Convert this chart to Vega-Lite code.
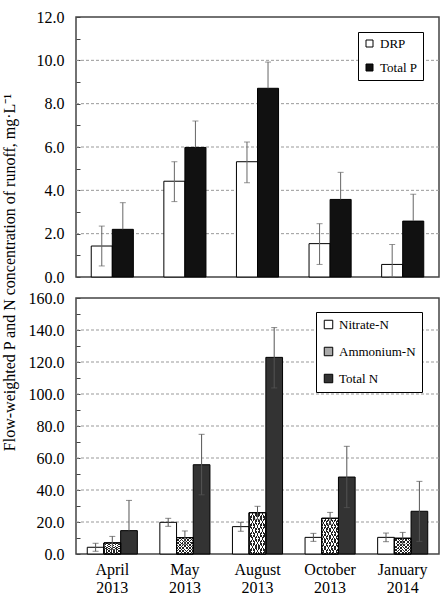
{
  "$schema": "https://vega.github.io/schema/vega-lite/v6.json",
  "padding": {"left": 0, "top": 8, "right": 6, "bottom": 4},
  "background": "white",
  "bounds": "flush",
  "spacing": 21,
  "config": {
    "font": "Liberation Serif",
    "view": {"stroke": "#444", "strokeWidth": 1.5},
    "axis": {"labelFont": "Liberation Serif", "labelFontSize": 16, "labelColor": "black", "titleFont": "Liberation Serif", "titleColor": "black", "titleFontWeight": "normal", "labelOverlap": false, "grid": false},
    "legend": {"labelFont": "Liberation Serif", "labelColor": "black", "labelFontSize": 13}
  },
  "resolve": {"scale": {"x": "independent", "y": "independent", "fill": "independent", "xOffset": "independent"}, "legend": {"fill": "independent"}},
  "datasets": {
    "P": [
      {"month": "April 2013", "series": "DRP", "value": 1.43, "lo": 0.51, "hi": 2.35},
      {"month": "April 2013", "series": "Total P", "value": 2.2, "lo": 2.2, "hi": 3.43},
      {"month": "May 2013", "series": "DRP", "value": 4.42, "lo": 3.48, "hi": 5.32},
      {"month": "May 2013", "series": "Total P", "value": 5.98, "lo": 5.98, "hi": 7.2},
      {"month": "August 2013", "series": "DRP", "value": 5.32, "lo": 4.35, "hi": 6.23},
      {"month": "August 2013", "series": "Total P", "value": 8.71, "lo": 8.71, "hi": 9.92},
      {"month": "October 2013", "series": "DRP", "value": 1.54, "lo": 0.58, "hi": 2.46},
      {"month": "October 2013", "series": "Total P", "value": 3.58, "lo": 3.58, "hi": 4.83},
      {"month": "January 2014", "series": "DRP", "value": 0.58, "lo": 0, "hi": 1.5},
      {"month": "January 2014", "series": "Total P", "value": 2.58, "lo": 2.58, "hi": 3.82}
    ],
    "N": [
      {"month": "April 2013", "series": "Nitrate-N", "value": 4.2, "lo": 1.7, "hi": 6.7},
      {"month": "April 2013", "series": "Ammonium-N", "value": 6.9, "lo": 2.8, "hi": 11.0},
      {"month": "April 2013", "series": "Total N", "value": 14.6, "lo": 14.6, "hi": 33.5},
      {"month": "May 2013", "series": "Nitrate-N", "value": 19.8, "lo": 17.3, "hi": 22.3},
      {"month": "May 2013", "series": "Ammonium-N", "value": 10.2, "lo": 6.0, "hi": 14.4},
      {"month": "May 2013", "series": "Total N", "value": 55.8, "lo": 37.0, "hi": 74.8},
      {"month": "August 2013", "series": "Nitrate-N", "value": 17.1, "lo": 14.2, "hi": 19.8},
      {"month": "August 2013", "series": "Ammonium-N", "value": 25.8, "lo": 21.7, "hi": 29.8},
      {"month": "August 2013", "series": "Total N", "value": 122.9, "lo": 103.8, "hi": 141.5},
      {"month": "October 2013", "series": "Nitrate-N", "value": 10.4, "lo": 7.9, "hi": 12.9},
      {"month": "October 2013", "series": "Ammonium-N", "value": 22.3, "lo": 18.6, "hi": 26.0},
      {"month": "October 2013", "series": "Total N", "value": 48.1, "lo": 29.0, "hi": 67.3},
      {"month": "January 2014", "series": "Nitrate-N", "value": 10.4, "lo": 7.7, "hi": 13.1},
      {"month": "January 2014", "series": "Ammonium-N", "value": 9.8, "lo": 6.1, "hi": 13.5},
      {"month": "January 2014", "series": "Total N", "value": 26.7, "lo": 7.9, "hi": 45.4}
    ]
  },
  "vconcat": [
    {
      "width": 363,
      "height": 260,
      "layer": [
        {
          "data": {"values": [{"g": 2}, {"g": 4}, {"g": 6}, {"g": 8}, {"g": 10}]},
          "mark": {"type": "rule", "color": "#999", "strokeWidth": 1, "strokeDash": [3, 2]},
          "encoding": {"y": {"field": "g", "type": "quantitative", "title": "Flow-weighted P and N concentration of runoff, mg·L⁻¹"}}
        },
        {
          "data": {"name": "P"},
          "mark": {"type": "bar", "stroke": "black", "strokeWidth": 1},
          "encoding": {
            "x": {"field": "month", "type": "nominal", "sort": ["April 2013", "May 2013", "August 2013", "October 2013", "January 2014"], "scale": {"paddingInner": 0.42, "paddingOuter": 0.21}, "axis": null},
            "xOffset": {"field": "series", "type": "nominal", "sort": ["DRP", "Total P"], "scale": {"paddingInner": 0, "paddingOuter": 0}},
            "y": {
              "field": "value", "type": "quantitative",
              "scale": {"domain": [0, 12], "nice": false},
              "title": "Flow-weighted P and N concentration of runoff, mg·L⁻¹",
              "axis": {
                "titleFontSize": 16, "titleX": -62, "titleY": 255, "titleAngle": -90, "titleAlign": "center", "titleBaseline": "alphabetic",
                "values": [0, 1, 2, 3, 4, 5, 6, 7, 8, 9, 10, 11, 12],
                "tickCount": 100,
                "labelExpr": "datum.value % 2 == 0 ? format(datum.value, '.1f') : ''",
                "labelOverlap": false,
                "domain": false, "grid": false,
                "tickSize": -4, "tickColor": "#444", "labelPadding": 16
              }
            },
            "fill": {
              "field": "series", "type": "nominal",
              "scale": {"domain": ["DRP", "Total P"], "range": ["white", "#111"]},
              "legend": {"orient": "none", "legendX": 282, "legendY": 15, "title": null, "symbolType": "square", "symbolSize": 49, "symbolStrokeColor": "black", "symbolStrokeWidth": 1, "labelFontSize": 13, "strokeColor": "black", "fillColor": "white", "padding": 5, "rowPadding": 10, "labelOffset": 4}
            }
          }
        },
        {
          "data": {"name": "P"},
          "mark": {"type": "rule", "color": "#666", "strokeWidth": 1},
          "encoding": {
            "x": {"field": "month", "type": "nominal", "sort": ["April 2013", "May 2013", "August 2013", "October 2013", "January 2014"]},
            "xOffset": {"field": "series", "type": "nominal", "sort": ["DRP", "Total P"]},
            "y": {"field": "lo", "type": "quantitative", "title": "Flow-weighted P and N concentration of runoff, mg·L⁻¹"}, "y2": {"field": "hi"}}
        },
        {
          "data": {"name": "P"},
          "mark": {"type": "tick", "color": "#666", "size": 6, "thickness": 1},
          "encoding": {
            "x": {"field": "month", "type": "nominal", "sort": ["April 2013", "May 2013", "August 2013", "October 2013", "January 2014"]},
            "xOffset": {"field": "series", "type": "nominal", "sort": ["DRP", "Total P"]},
            "y": {"field": "hi", "type": "quantitative", "title": "Flow-weighted P and N concentration of runoff, mg·L⁻¹"}}
        },
        {
          "data": {"name": "P"},
          "transform": [{"filter": "datum.lo < datum.value"}],
          "mark": {"type": "tick", "color": "#666", "size": 6, "thickness": 1},
          "encoding": {
            "x": {"field": "month", "type": "nominal", "sort": ["April 2013", "May 2013", "August 2013", "October 2013", "January 2014"]},
            "xOffset": {"field": "series", "type": "nominal", "sort": ["DRP", "Total P"]},
            "y": {"field": "lo", "type": "quantitative", "title": "Flow-weighted P and N concentration of runoff, mg·L⁻¹"}}
        }
      ]
    },
    {
      "width": 363,
      "height": 256,
      "layer": [
        {
          "data": {"values": [{"g": 20}, {"g": 40}, {"g": 60}, {"g": 80}, {"g": 100}, {"g": 120}, {"g": 140}]},
          "mark": {"type": "rule", "color": "#999", "strokeWidth": 1, "strokeDash": [3, 2]},
          "encoding": {"y": {"field": "g", "type": "quantitative", "title": null}}
        },
        {
          "data": {"name": "N"},
          "mark": {"type": "bar", "stroke": "black", "strokeWidth": 1},
          "encoding": {
            "x": {"field": "month", "type": "nominal", "sort": ["April 2013", "May 2013", "August 2013", "October 2013", "January 2014"], "scale": {"paddingInner": 0.31, "paddingOuter": 0.155},
              "axis": {"title": null, "labelExpr": "split(datum.label, ' ')", "labelAngle": 0, "ticks": false, "domain": false, "grid": false, "labelPadding": 7, "labelLineHeight": 18, "labelFontSize": 16, "labelBaseline": "top"}},
            "xOffset": {"field": "series", "type": "nominal", "sort": ["Nitrate-N", "Ammonium-N", "Total N"], "scale": {"paddingInner": 0, "paddingOuter": 0}},
            "y": {
              "field": "value", "type": "quantitative",
              "scale": {"domain": [0, 160], "nice": false},
              "title": null,
              "axis": {
                "values": [0, 10, 20, 30, 40, 50, 60, 70, 80, 90, 100, 110, 120, 130, 140, 150, 160],
                "tickCount": 100,
                "labelExpr": "datum.value % 20 == 0 ? format(datum.value, '.1f') : ''",
                "labelOverlap": false,
                "domain": false, "grid": false,
                "tickSize": -4, "tickColor": "#444", "labelPadding": 16
              }
            },
            "fill": {
              "field": "series", "type": "nominal",
              "scale": {"domain": ["Nitrate-N", "Ammonium-N", "Total N"], "range": ["white", "#aaa", "#333"]},
              "legend": {"orient": "none", "legendX": 240, "legendY": 14, "title": null, "symbolType": "square", "symbolSize": 72, "symbolStrokeColor": "black", "symbolStrokeWidth": 1, "labelFontSize": 13, "strokeColor": "black", "fillColor": "white", "padding": 6, "rowPadding": 13, "labelOffset": 4}
            }
          }
        },
        {
          "data": {"name": "N"},
          "transform": [{"filter": "datum.series == 'Ammonium-N'"}],
          "mark": {"type": "bar", "stroke": "black", "strokeWidth": 1,
            "fill": {"gradient": "linear", "x1": 0, "y1": 0, "x2": 1, "y2": 1, "stops": [
              {"offset": 0, "color": "#222"}, {"offset": 0.03, "color": "#222"}, {"offset": 0.03, "color": "white"}, {"offset": 0.1, "color": "white"},
              {"offset": 0.1, "color": "#222"}, {"offset": 0.13, "color": "#222"}, {"offset": 0.13, "color": "white"}, {"offset": 0.2, "color": "white"},
              {"offset": 0.2, "color": "#222"}, {"offset": 0.23, "color": "#222"}, {"offset": 0.23, "color": "white"}, {"offset": 0.3, "color": "white"},
              {"offset": 0.3, "color": "#222"}, {"offset": 0.33, "color": "#222"}, {"offset": 0.33, "color": "white"}, {"offset": 0.4, "color": "white"},
              {"offset": 0.4, "color": "#222"}, {"offset": 0.43, "color": "#222"}, {"offset": 0.43, "color": "white"}, {"offset": 0.5, "color": "white"},
              {"offset": 0.5, "color": "#222"}, {"offset": 0.53, "color": "#222"}, {"offset": 0.53, "color": "white"}, {"offset": 0.6, "color": "white"},
              {"offset": 0.6, "color": "#222"}, {"offset": 0.63, "color": "#222"}, {"offset": 0.63, "color": "white"}, {"offset": 0.7, "color": "white"},
              {"offset": 0.7, "color": "#222"}, {"offset": 0.73, "color": "#222"}, {"offset": 0.73, "color": "white"}, {"offset": 0.8, "color": "white"},
              {"offset": 0.8, "color": "#222"}, {"offset": 0.83, "color": "#222"}, {"offset": 0.83, "color": "white"}, {"offset": 0.9, "color": "white"},
              {"offset": 0.9, "color": "#222"}, {"offset": 0.93, "color": "#222"}, {"offset": 0.93, "color": "white"}, {"offset": 1, "color": "white"}
            ]}},
          "encoding": {
            "x": {"field": "month", "type": "nominal", "sort": ["April 2013", "May 2013", "August 2013", "October 2013", "January 2014"]},
            "xOffset": {"field": "series", "type": "nominal", "sort": ["Nitrate-N", "Ammonium-N", "Total N"]},
            "y": {"field": "value", "type": "quantitative", "title": null}}
        },
        {
          "data": {"name": "N"},
          "transform": [{"filter": "datum.series == 'Ammonium-N'"}],
          "mark": {"type": "bar", "stroke": "black", "strokeWidth": 1,
            "fill": {"gradient": "linear", "x1": 1, "y1": 0, "x2": 0, "y2": 1, "stops": [
              {"offset": 0, "color": "#222"}, {"offset": 0.03, "color": "#222"}, {"offset": 0.03, "color": "rgba(0,0,0,0)"}, {"offset": 0.1, "color": "rgba(0,0,0,0)"},
              {"offset": 0.1, "color": "#222"}, {"offset": 0.13, "color": "#222"}, {"offset": 0.13, "color": "rgba(0,0,0,0)"}, {"offset": 0.2, "color": "rgba(0,0,0,0)"},
              {"offset": 0.2, "color": "#222"}, {"offset": 0.23, "color": "#222"}, {"offset": 0.23, "color": "rgba(0,0,0,0)"}, {"offset": 0.3, "color": "rgba(0,0,0,0)"},
              {"offset": 0.3, "color": "#222"}, {"offset": 0.33, "color": "#222"}, {"offset": 0.33, "color": "rgba(0,0,0,0)"}, {"offset": 0.4, "color": "rgba(0,0,0,0)"},
              {"offset": 0.4, "color": "#222"}, {"offset": 0.43, "color": "#222"}, {"offset": 0.43, "color": "rgba(0,0,0,0)"}, {"offset": 0.5, "color": "rgba(0,0,0,0)"},
              {"offset": 0.5, "color": "#222"}, {"offset": 0.53, "color": "#222"}, {"offset": 0.53, "color": "rgba(0,0,0,0)"}, {"offset": 0.6, "color": "rgba(0,0,0,0)"},
              {"offset": 0.6, "color": "#222"}, {"offset": 0.63, "color": "#222"}, {"offset": 0.63, "color": "rgba(0,0,0,0)"}, {"offset": 0.7, "color": "rgba(0,0,0,0)"},
              {"offset": 0.7, "color": "#222"}, {"offset": 0.73, "color": "#222"}, {"offset": 0.73, "color": "rgba(0,0,0,0)"}, {"offset": 0.8, "color": "rgba(0,0,0,0)"},
              {"offset": 0.8, "color": "#222"}, {"offset": 0.83, "color": "#222"}, {"offset": 0.83, "color": "rgba(0,0,0,0)"}, {"offset": 0.9, "color": "rgba(0,0,0,0)"},
              {"offset": 0.9, "color": "#222"}, {"offset": 0.93, "color": "#222"}, {"offset": 0.93, "color": "rgba(0,0,0,0)"}, {"offset": 1, "color": "rgba(0,0,0,0)"}
            ]}},
          "encoding": {
            "x": {"field": "month", "type": "nominal", "sort": ["April 2013", "May 2013", "August 2013", "October 2013", "January 2014"]},
            "xOffset": {"field": "series", "type": "nominal", "sort": ["Nitrate-N", "Ammonium-N", "Total N"]},
            "y": {"field": "value", "type": "quantitative", "title": null}}
        },
        {
          "data": {"name": "N"},
          "mark": {"type": "rule", "color": "#555", "strokeWidth": 1},
          "encoding": {
            "x": {"field": "month", "type": "nominal", "sort": ["April 2013", "May 2013", "August 2013", "October 2013", "January 2014"]},
            "xOffset": {"field": "series", "type": "nominal", "sort": ["Nitrate-N", "Ammonium-N", "Total N"]},
            "y": {"field": "lo", "type": "quantitative", "title": null}, "y2": {"field": "hi"}}
        },
        {
          "data": {"name": "N"},
          "mark": {"type": "tick", "color": "#555", "size": 6, "thickness": 1},
          "encoding": {
            "x": {"field": "month", "type": "nominal", "sort": ["April 2013", "May 2013", "August 2013", "October 2013", "January 2014"]},
            "xOffset": {"field": "series", "type": "nominal", "sort": ["Nitrate-N", "Ammonium-N", "Total N"]},
            "y": {"field": "hi", "type": "quantitative", "title": null}}
        },
        {
          "data": {"name": "N"},
          "transform": [{"filter": "datum.lo < datum.value"}],
          "mark": {"type": "tick", "color": "#555", "size": 6, "thickness": 1},
          "encoding": {
            "x": {"field": "month", "type": "nominal", "sort": ["April 2013", "May 2013", "August 2013", "October 2013", "January 2014"]},
            "xOffset": {"field": "series", "type": "nominal", "sort": ["Nitrate-N", "Ammonium-N", "Total N"]},
            "y": {"field": "lo", "type": "quantitative", "title": null}}
        }
      ]
    }
  ]
}
